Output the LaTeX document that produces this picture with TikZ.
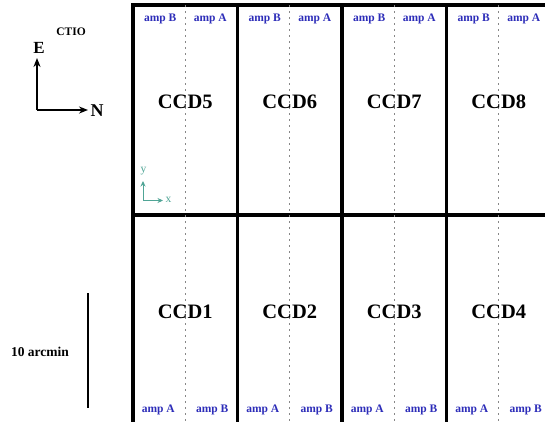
\documentclass[tikz,border=0pt]{standalone}
\usepackage{fontspec}
\setmainfont{Liberation Serif}
\usetikzlibrary{arrows.meta}
\definecolor{ampblue}{RGB}{45,45,185}
\definecolor{axteal}{RGB}{80,165,150}
\definecolor{dotgray}{RGB}{135,135,135}
\tikzset{
  ccdbox/.style={draw=black, line width=3.6pt, minimum width=104.5pt, minimum height=210pt, inner sep=0pt, outer sep=0pt},
  ccdlabel/.style={font=\fontsize{20.5}{22}\selectfont\bfseries, inner sep=0pt},
  amplabel/.style={font=\fontsize{11.5}{12}\selectfont\bfseries, text=ampblue, inner sep=0pt},
  divider/.style={dotgray, line width=1pt, dash pattern=on 2pt off 4pt},
  blackarrow/.style={line width=1.6pt, -{Stealth[length=9pt,width=7pt]}},
  tealarrow/.style={axteal, line width=1pt, -{Stealth[length=5.5pt,width=5pt]}},
  plain/.style={font=\bfseries, inner sep=0pt}
}
\begin{document}
\begin{tikzpicture}[x=1pt,y=-1pt]
\clip (0,0) rectangle (545,421);
\fill[white] (0,0) rectangle (545,421);
% CCD boxes
\foreach \n/\cx/\cy in {5/185.25/110, 6/289.75/110, 7/394.25/110, 8/498.75/110,
                        1/185.25/320, 2/289.75/320, 3/394.25/320, 4/498.75/320} {
  \node[ccdbox] (ccd\n) at (\cx,\cy) {};
  \draw[divider] (ccd\n.north) -- (ccd\n.south);
}
% CCD labels and amplifiers (top row)
\foreach \n in {5,6,7,8} {
  \node[ccdlabel] (lab\n) at ([yshift=8pt]ccd\n.center) {CCD\n};
  \node[amplabel] (ampB\n) at ([xshift=-25pt,yshift=-14pt]ccd\n.north) {amp B};
  \node[amplabel] (ampA\n) at ([xshift=25pt,yshift=-14pt]ccd\n.north) {amp A};
}
% bottom row
\foreach \n in {1,2,3,4} {
  \node[ccdlabel] (lab\n) at ([yshift=8pt]ccd\n.center) {CCD\n};
  \node[amplabel] (ampA\n) at ([xshift=-27pt,yshift=15pt]ccd\n.south) {amp A};
  \node[amplabel] (ampB\n) at ([xshift=27pt,yshift=15pt]ccd\n.south) {amp B};
}
% small x-y axes in CCD5
\coordinate (xyo) at (143,200.5);
\coordinate (xyy) at (143,181);
\coordinate (xyx) at (163,200.5);
\draw[tealarrow] (xyo) -- (xyy);
\draw[tealarrow] (xyo) -- (xyx);
\node[text=axteal, font=\fontsize{11.5}{12}\selectfont, inner sep=0pt] (ylab) at (143.5,171) {y};
\node[text=axteal, font=\fontsize{11.5}{12}\selectfont, inner sep=0pt] (xlab) at (168.5,200) {x};
% compass
\node[plain, font=\fontsize{11.5}{12}\selectfont\bfseries] (ctio) at (71,32) {CTIO};
\node[plain, font=\fontsize{17}{18}\selectfont\bfseries] (east) at (39,48) {E};
\node[plain, font=\fontsize{18}{19}\selectfont\bfseries] (north) at (97,110.5) {N};
\coordinate (corner) at (37,110);
\draw[blackarrow] (corner) -- (37,58);
\draw[blackarrow] (corner) -- (88,110);
% scale bar
\coordinate (sbtop) at (88,293);
\coordinate (sbbot) at (88,408);
\draw[line width=1.4pt] (sbtop) -- (sbbot);
\node[plain, font=\fontsize{13.5}{14}\selectfont\bfseries] (scale) at (40,352) {10 arcmin};
\end{tikzpicture}
\end{document}
